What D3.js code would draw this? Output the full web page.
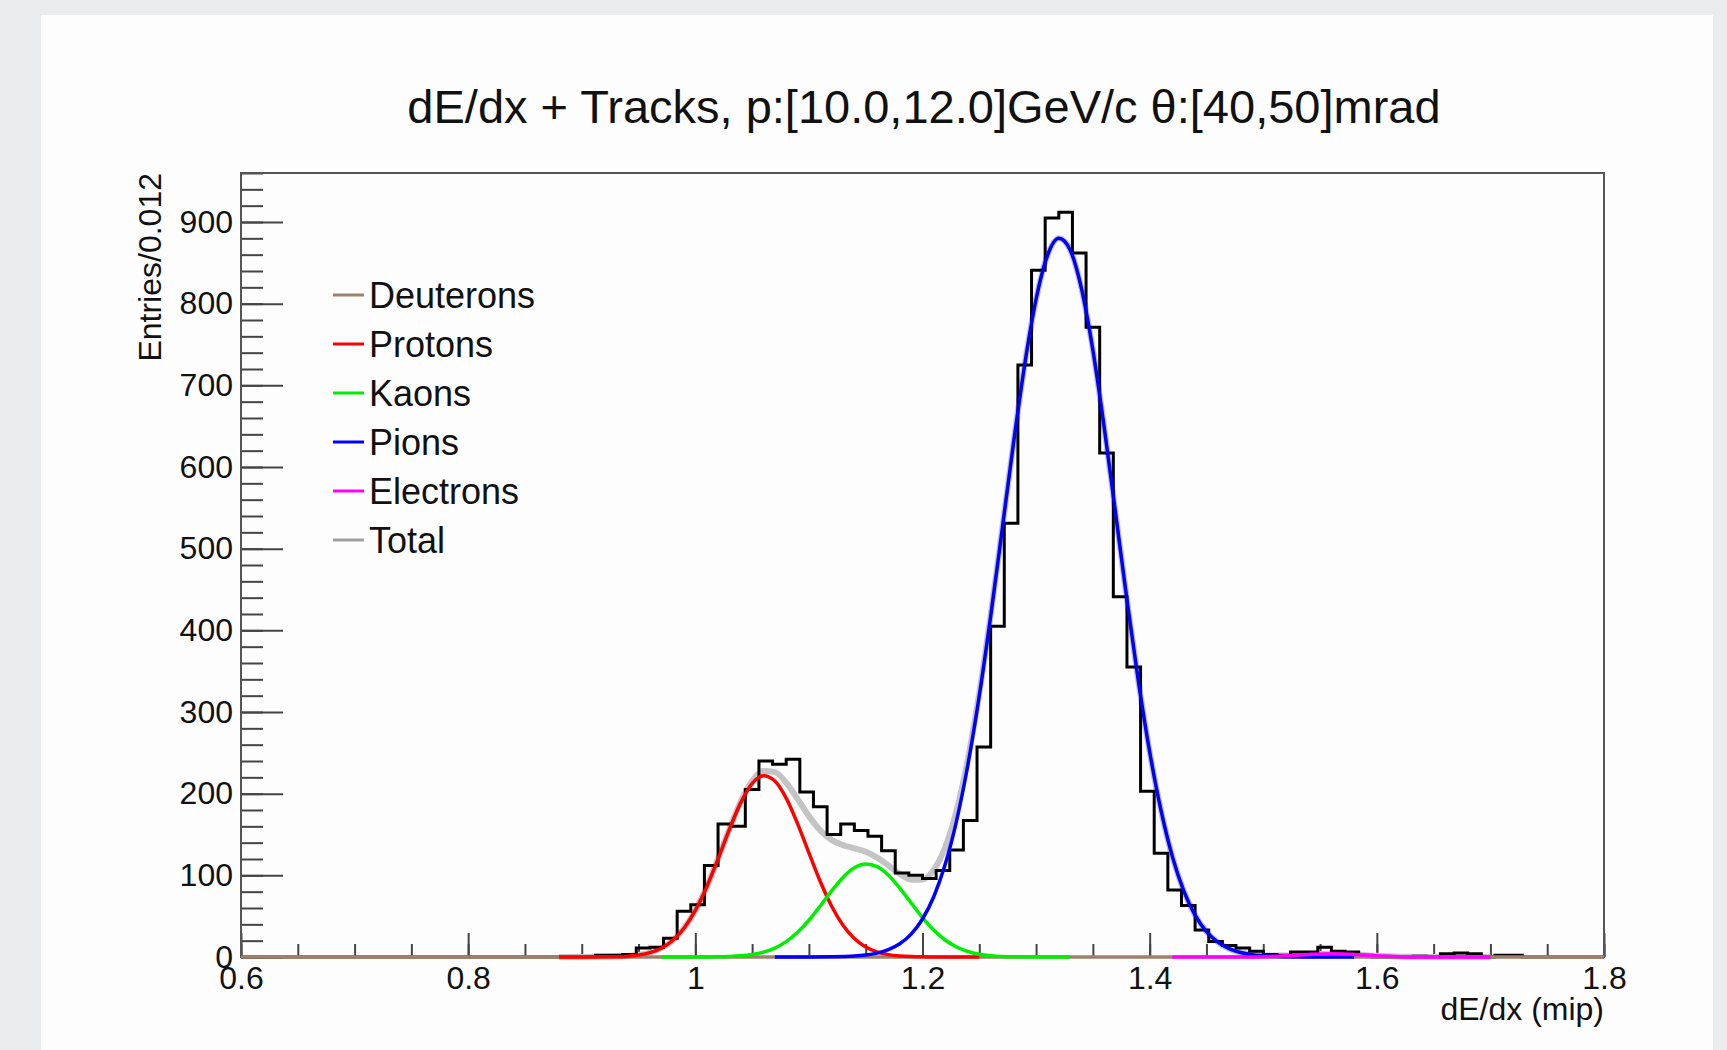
<!DOCTYPE html>
<html lang="en">
<head>
    <meta charset="UTF-8">
    <title>dE/dx + Tracks</title>
    <script src="https://d3js.org/d3.v7.min.js"></script>
    <style>
        body { margin: 0; background: #e9ebed; }
        text { font-family: "Liberation Sans", Arial, Helvetica, sans-serif; fill: #111; }
    </style>
</head>
<body>
    <svg width="1727" height="1050"></svg>
    <script>
        // histogram: 100 bins of width 0.012 starting at 0.6
        const binLow = 0.6;
        const binWidth = 0.012;
        const histCounts = [
            0, 0, 0, 0, 0, 0, 0, 0, 0, 0,
            0, 0, 0, 0, 0, 0, 0, 0, 0, 0,
            0, 0, 0, 0, 0, 0, 2, 2, 3, 11,
            12, 23, 56, 64, 112, 163, 160, 205, 240, 236,
            242, 202, 184, 150, 163, 155, 148, 130, 103, 100,
            96, 106, 131, 167, 257, 405, 531, 725, 841, 905,
            912, 862, 771, 617, 441, 355, 203, 127, 82, 63,
            33, 19, 14, 11, 7, 3, 2, 6, 6, 12,
            7, 6, 2, 0, 0, 0, 1, 0, 4, 5,
            4, 0, 2, 2, 0, 0, 0, 0, 0, 0
        ];

        // fitted components, [dE/dx, entries]
        const deuterons = [[0.6, 0], [1.8, 0]];
        const protons = [[0.88, 0], [0.90, 0.02], [0.92, 0.16], [0.93, 0.42], [0.94, 1.06], [0.95, 2.46],
            [0.96, 5.35], [0.97, 10.8], [0.98, 20.2], [0.99, 35.2], [1.00, 57.0], [1.01, 85.8],
            [1.02, 120.1], [1.03, 156.3], [1.04, 189.0], [1.05, 212.4], [1.06, 222.0], [1.07, 215.5],
            [1.08, 194.6], [1.09, 163.3], [1.10, 127.4], [1.11, 92.4], [1.12, 62.2], [1.13, 39.0],
            [1.14, 22.7], [1.15, 12.3], [1.16, 6.2], [1.17, 2.9], [1.18, 1.26], [1.19, 0.5],
            [1.20, 0.19], [1.22, 0.02], [1.25, 0]];
        const kaons = [[0.97, 0], [1.00, 0.03], [1.02, 0.25], [1.03, 0.61], [1.04, 1.39], [1.05, 2.97],
            [1.06, 5.9], [1.07, 10.9], [1.08, 18.8], [1.09, 30.2], [1.10, 45.0], [1.11, 62.5],
            [1.12, 80.9], [1.13, 97.4], [1.14, 109.2], [1.15, 114.0], [1.16, 110.7], [1.17, 100.2],
            [1.18, 84.4], [1.19, 66.2], [1.20, 48.3], [1.21, 32.8], [1.22, 20.8], [1.23, 12.2],
            [1.24, 6.7], [1.25, 3.4], [1.26, 1.63], [1.27, 0.72], [1.28, 0.3], [1.30, 0.04], [1.33, 0]];
        const pions = [[1.07, 0], [1.10, 0.05], [1.12, 0.3], [1.14, 1.2], [1.15, 2.5], [1.16, 4.8],
            [1.17, 9.0], [1.18, 16.2], [1.19, 28.0], [1.20, 46.5], [1.21, 74.1], [1.22, 113.5],
            [1.23, 166.8], [1.24, 235.7], [1.25, 319.8], [1.26, 416.9], [1.27, 522.0], [1.28, 627.9],
            [1.29, 725.6], [1.30, 805.4], [1.31, 858.9], [1.32, 880.0], [1.33, 865.8], [1.34, 818.4],
            [1.35, 743.3], [1.36, 648.4], [1.37, 543.4], [1.38, 437.4], [1.39, 338.3], [1.40, 251.3],
            [1.41, 179.4], [1.42, 122.9], [1.43, 81.0], [1.44, 51.2], [1.45, 31.1], [1.46, 18.2],
            [1.47, 10.2], [1.48, 5.5], [1.49, 2.8], [1.50, 1.4], [1.52, 0.3], [1.55, 0], [1.58, 0]];
        const electrons = [[1.42, 0], [1.46, 0.01], [1.48, 0.1], [1.50, 0.4], [1.52, 1.44], [1.54, 3.1],
            [1.56, 4.0], [1.58, 3.1], [1.60, 1.44], [1.62, 0.4], [1.64, 0.1], [1.66, 0.01], [1.70, 0]];
        const total = [[0.88, 0], [0.90, 0.02], [0.92, 0.2], [0.94, 1.1], [0.95, 2.5], [0.96, 5.4],
            [0.97, 10.8], [0.98, 20.2], [0.99, 35.2], [1.00, 57.0], [1.01, 85.8], [1.02, 120.4],
            [1.03, 156.9], [1.04, 190.4], [1.05, 215.4], [1.06, 227.9], [1.07, 226.4], [1.08, 213.4],
            [1.09, 193.5], [1.10, 172.5], [1.11, 155.0], [1.12, 143.4], [1.13, 137.0], [1.14, 133.1],
            [1.15, 128.8], [1.16, 121.7], [1.17, 112.1], [1.18, 101.9], [1.19, 94.7], [1.20, 95.0],
            [1.21, 107.0], [1.22, 134.3], [1.23, 179.0], [1.24, 242.4], [1.25, 323.2], [1.26, 418.5],
            [1.27, 522.7], [1.28, 628.2], [1.29, 725.7], [1.30, 805.4], [1.31, 858.9], [1.32, 880.0],
            [1.33, 865.8], [1.34, 818.4], [1.35, 743.3], [1.36, 648.4], [1.37, 543.4], [1.38, 437.4],
            [1.39, 338.3], [1.40, 251.3], [1.41, 179.4], [1.42, 122.9], [1.43, 81.0], [1.44, 51.2],
            [1.45, 31.1], [1.46, 18.2], [1.47, 10.2], [1.48, 5.5], [1.49, 3.0], [1.50, 1.8],
            [1.52, 1.75], [1.54, 3.15], [1.56, 4.0], [1.58, 3.1], [1.60, 1.44], [1.62, 0.4],
            [1.66, 0], [1.70, 0]];

        const legendNames = ["Deuterons", "Protons", "Kaons", "Pions", "Electrons", "Total"];
        const legendColors = ["#a0806c", "#ff0000", "#00ee00", "#0000ff", "#ff00ff", "#a0a0a0"];

        const xTicks = [0.6, 0.8, 1, 1.2, 1.4, 1.6, 1.8];
        const xTickLabels = ["0.6", "0.8", "1", "1.2", "1.4", "1.6", "1.8"];
        const yTicks = [0, 100, 200, 300, 400, 500, 600, 700, 800, 900];

        const titleText = "dE/dx + Tracks, p:[10.0,12.0]GeV/c \u03b8:[40,50]mrad";

        const frame = {left: 241, right: 1604, top: 173, bottom: 957};

        const svg = d3.select("svg");

        // white panel
        svg.append("rect")
            .attr("x", 41).attr("y", 15)
            .attr("width", 1672).attr("height", 1040)
            .attr("fill", "#fdfdfd");

        const x = d3.scaleLinear().domain([0.6, 1.8]).range([frame.left, frame.right]);
        const y = d3.scaleLinear().domain([0, 960]).range([frame.bottom, frame.top]);

        // minor ticks
        svg.append("g")
            .attr("transform", `translate(${frame.left},0)`)
            .call(d3.axisLeft(y).tickValues(d3.range(0, 961, 20)).tickSize(-22).tickFormat(""))
            .call(g => g.select(".domain").remove())
            .call(g => g.selectAll("line").attr("stroke", "#444").attr("stroke-width", 2));
        svg.append("g")
            .attr("transform", `translate(0,${frame.bottom})`)
            .call(d3.axisBottom(x).tickValues(d3.range(0, 25).map(i => 0.6 + i * 0.05)).tickSize(-13).tickFormat(""))
            .call(g => g.select(".domain").remove())
            .call(g => g.selectAll("line").attr("stroke", "#444").attr("stroke-width", 2));

        // major ticks + labels
        svg.append("g")
            .attr("transform", `translate(${frame.left},0)`)
            .call(d3.axisLeft(y).tickValues(yTicks).tickSizeInner(-42).tickSizeOuter(0).tickPadding(8))
            .call(g => g.select(".domain").remove())
            .call(g => g.selectAll("line").attr("stroke", "#444").attr("stroke-width", 2))
            .call(g => g.selectAll("text").attr("font-size", 32).style("font-family", "Liberation Sans, Arial, sans-serif").attr("fill", "#111"));
        svg.append("g")
            .attr("transform", `translate(0,${frame.bottom})`)
            .call(d3.axisBottom(x).tickValues(xTicks).tickSizeInner(-24).tickSizeOuter(0).tickPadding(9)
                .tickFormat((d, i) => xTickLabels[i]))
            .call(g => g.select(".domain").remove())
            .call(g => g.selectAll("line").attr("stroke", "#444").attr("stroke-width", 2))
            .call(g => g.selectAll("text").attr("font-size", 32).style("font-family", "Liberation Sans, Arial, sans-serif").attr("fill", "#111"));

        // frame
        svg.append("rect")
            .attr("x", frame.left).attr("y", frame.top)
            .attr("width", frame.right - frame.left).attr("height", frame.bottom - frame.top)
            .attr("fill", "none").attr("stroke", "#555").attr("stroke-width", 2);

        const curve = d3.line()
            .x(d => x(d[0]))
            .y(d => y(d[1]))
            .curve(d3.curveMonotoneX);

        // total fit underneath
        svg.append("path")
            .datum(total)
            .attr("d", curve)
            .attr("fill", "none")
            .attr("stroke", "#c4c4c4")
            .attr("stroke-width", 6);

        // histogram outline
        const histPoints = histCounts.map((c, i) => [binLow + i * binWidth, c]);
        histPoints.push([binLow + histCounts.length * binWidth, histCounts[histCounts.length - 1]]);
        svg.append("path")
            .datum(histPoints)
            .attr("d", d3.line().x(d => x(d[0])).y(d => y(d[1])).curve(d3.curveStepAfter))
            .attr("fill", "none")
            .attr("stroke", "#000")
            .attr("stroke-width", 3);

        // components
        [deuterons, protons, kaons, pions, electrons].forEach((c, i) => {
            svg.append("path")
                .datum(c)
                .attr("d", curve)
                .attr("fill", "none")
                .attr("stroke", legendColors[i])
                .attr("stroke-width", 3.5);
        });

        // legend
        const legend = svg.append("g");
        legendNames.forEach((name, i) => {
            const ly = 295 + i * 49;
            legend.append("line")
                .attr("x1", 333).attr("x2", 364)
                .attr("y1", ly).attr("y2", ly)
                .attr("stroke", legendColors[i])
                .attr("stroke-width", 3);
            legend.append("text")
                .attr("x", 369).attr("y", ly)
                .attr("dy", "0.35em")
                .attr("font-size", 36)
                .text(name);
        });

        // titles
        svg.append("text")
            .attr("x", 924).attr("y", 123)
            .attr("text-anchor", "middle")
            .attr("font-size", 47)
            .text(titleText);

        svg.append("text")
            .attr("transform", `translate(161,${frame.top}) rotate(-90)`)
            .attr("text-anchor", "end")
            .attr("font-size", 32)
            .text("Entries/0.012");

        svg.append("text")
            .attr("x", frame.right).attr("y", 1020)
            .attr("text-anchor", "end")
            .attr("font-size", 32)
            .text("dE/dx (mip)");
    </script>
</body>
</html>
